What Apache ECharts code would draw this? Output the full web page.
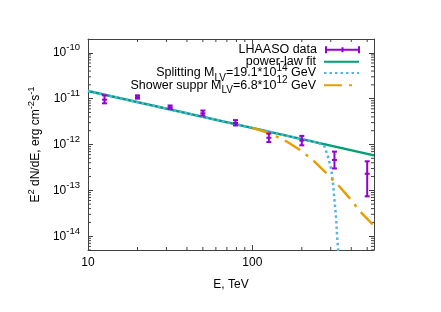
<!DOCTYPE html>
<html><head><meta charset="utf-8">
<script src="https://cdn.jsdelivr.net/npm/echarts@6/dist/echarts.min.js"></script>
<style>html,body{margin:0;padding:0;background:#fff}#c{width:441px;height:312px}</style>
</head><body><div id="c"></div>
<script>
// ---- data ----
const energies = [12.6, 20, 31.6, 50, 79, 126, 200, 316, 500];
const flux     = [9.5e-12, 1.08e-11, 6.5e-12, 4.8e-12, 2.95e-12, 1.4e-12, 1.22e-12, 4.6e-13, 2.3e-13];
const fluxLow  = [7.9e-12, 1.0e-11, 6.0e-12, 4.3e-12, 2.6e-12, 1.13e-12, 9.6e-13, 3.0e-13, 7.4e-14];
const fluxHigh = [1.18e-11, 1.18e-11, 7.1e-12, 5.5e-12, 3.4e-12, 1.73e-12, 1.54e-12, 7.0e-13, 4.3e-13];

const fitE    = [10, 550];
const fitFlux = [1.47e-11, 5.8e-13];

const splitE    = [10, 250, 265, 275, 288, 302, 309, 316, 324, 328, 333, 336];
const splitFlux = [1.47e-11, 1.1e-12, 1.0e-12, 9.0e-13, 5.6e-13, 2.9e-13, 1.5e-13, 6.4e-14, 2.3e-14, 1.0e-14, 5.0e-15, 2.5e-15];

const showerE    = [100, 124.5, 142, 160, 193, 233, 280, 302, 330, 393, 452, 540];
const showerFlux = [2.3e-12, 1.81e-12, 1.46e-12, 1.19e-12, 7.8e-13, 4.6e-13, 2.43e-13, 1.83e-13, 1.35e-13, 6.6e-14, 3.5e-14, 1.8e-14];

const seriesNames = ['LHAASO data', 'power-law fit', 'Splitting M_LV=19.1*10^14 GeV', 'Shower suppr M_LV=6.8*10^12 GeV'];
const legendLabels = [
  '{b|LHAASO data}',
  '{b|power-law fit}',
  '{b|Splitting M}{sub|LV}{b|=19.1*10}{sup|14}{b| GeV}',
  '{b|Shower suppr M}{sub|LV}{b|=6.8*10}{sup|12}{b| GeV}'
];
const xAxisTitle = 'E, TeV';
const yAxisTitle = '{b|E}{sup|2}{b| dN/dE, erg cm}{sup|-2}{b|s}{sup|-1}';

const xRange = [10, 550];
const yRange = [5e-15, 2e-10];
const xMinorTicks = [20, 30, 40, 50, 60, 70, 80, 90, 200, 300, 400, 500];
const yMinorMantissas = [2, 3, 4, 5, 6, 7, 8, 9];
const yDecades = [-15, -14, -13, -12, -11, -10];

// ---- styling ----
const FONT = 'Liberation Sans, Arial, sans-serif';
const C_DATA = '#9400d3', C_FIT = '#009e73', C_SPLIT = '#56b4e9', C_SHOWER = '#e69f00';
const AX = '#404040';
const rich = {
  b:   {fontFamily: FONT, fontSize: 12, color: '#000', lineHeight: 20},
  sup: {fontFamily: FONT, fontSize: 9.5, color: '#000', lineHeight: 9, verticalAlign: 'top'},
  sub: {fontFamily: FONT, fontSize: 9.5, color: '#000', lineHeight: 9, verticalAlign: 'bottom'}
};
const legendRich = {
  b:   {fontFamily: FONT, fontSize: 12.5, color: '#000', lineHeight: 20},
  sup: {fontFamily: FONT, fontSize: 10, color: '#000', lineHeight: 9, verticalAlign: 'top'},
  sub: {fontFamily: FONT, fontSize: 10, color: '#000', lineHeight: 9, verticalAlign: 'bottom'}
};

const yMinorTicks = [];
yDecades.forEach(d => yMinorMantissas.forEach(m => {
  const v = m * Math.pow(10, d);
  if (v > yRange[0] && v < yRange[1]) yMinorTicks.push(v);
}));

function renderErr(params, api) {
  const x = api.value(0);
  const c = api.coord([x, api.value(1)]);
  const lo = api.coord([x, api.value(2)]);
  const hi = api.coord([x, api.value(3)]);
  const w = 2.5;
  const style = {stroke: C_DATA, lineWidth: 2, fill: null};
  return {type: 'group', children: [
    {type: 'line', shape: {x1: c[0], y1: lo[1], x2: c[0], y2: hi[1]}, style},
    {type: 'line', shape: {x1: c[0] - w, y1: lo[1], x2: c[0] + w, y2: lo[1]}, style},
    {type: 'line', shape: {x1: c[0] - w, y1: hi[1], x2: c[0] + w, y2: hi[1]}, style},
    {type: 'line', shape: {x1: c[0] - w, y1: c[1], x2: c[0] + w, y2: c[1]}, style}
  ]};
}
function renderXMinor(params, api) {
  const cs = params.coordSys;
  const px = api.coord([api.value(0), yRange[0]])[0];
  const style = {stroke: AX, lineWidth: 1};
  return {type: 'group', children: [
    {type: 'line', shape: {x1: px, y1: cs.y + cs.height, x2: px, y2: cs.y + cs.height - 3}, style},
    {type: 'line', shape: {x1: px, y1: cs.y, x2: px, y2: cs.y + 3}, style}
  ]};
}
function renderYMinor(params, api) {
  const cs = params.coordSys;
  const py = api.coord([xRange[0], api.value(1)])[1];
  const style = {stroke: AX, lineWidth: 1};
  return {type: 'group', children: [
    {type: 'line', shape: {x1: cs.x, y1: py, x2: cs.x + 3, y2: py}, style},
    {type: 'line', shape: {x1: cs.x + cs.width, y1: py, x2: cs.x + cs.width - 3, y2: py}, style}
  ]};
}

const legendIcons = [
  'path://M0,4h35v2h-35z M0,1.5h2v7h-2z M33,1.5h2v7h-2z M16.5,2.5h2v5h-2z',
  null, null, null
];
const legendTops = [43.3, 55.3, 62.9, 75.2];
const legends = seriesNames.map((n, i) => ({
  orient: 'vertical', align: 'right', right: 81, top: legendTops[i], padding: 0,
  itemWidth: 35, itemHeight: 10,
  data: [legendIcons[i] ? {name: n, icon: legendIcons[i]} : {name: n, itemStyle: {opacity: 0}}],
  formatter: nm => legendLabels[seriesNames.indexOf(nm)],
  textStyle: {fontFamily: FONT, fontSize: 12.5, color: '#000', rich: legendRich, padding: [0, 3, 0, 0]}
}));

const chart = echarts.init(document.getElementById('c'), null, {renderer: 'canvas'});
const axisCommon = {
  axisLine: {show: true, lineStyle: {color: AX, width: 1}},
  axisTick: {show: true, inside: true, length: 5, lineStyle: {color: AX}},
  splitLine: {show: false}
};
chart.setOption({
  animation: false,
  backgroundColor: '#fff',
  grid: {left: 88, right: 67, top: 39, bottom: 62},
  legend: legends,
  xAxis: [
    Object.assign({
      type: 'log', logBase: 10, min: xRange[0], max: xRange[1], position: 'bottom',
      axisLabel: {fontFamily: FONT, fontSize: 12, color: '#000', margin: 7, showMaxLabel: false, showMinLabel: true,
        formatter: v => String(Math.round(v))},
      name: xAxisTitle, nameLocation: 'middle', nameGap: 29,
      nameTextStyle: {fontFamily: FONT, fontSize: 12, color: '#000'}
    }, axisCommon),
    Object.assign({
      type: 'log', logBase: 10, min: xRange[0], max: xRange[1], position: 'top',
      axisLabel: {show: false}
    }, axisCommon)
  ],
  yAxis: [
    Object.assign({
      type: 'log', logBase: 10, min: yRange[0], max: yRange[1], position: 'left',
      axisLabel: {margin: 8, showMinLabel: false, showMaxLabel: false, rich: rich,
        formatter: v => '{b|10}{sup|' + Math.round(Math.log10(v)) + '}'},
      name: yAxisTitle, nameLocation: 'middle', nameRotate: 90, nameGap: 34,
      nameTextStyle: {rich: rich}
    }, axisCommon),
    Object.assign({
      type: 'log', logBase: 10, min: yRange[0], max: yRange[1], position: 'right',
      axisLabel: {show: false}
    }, axisCommon)
  ],
  series: [
    {
      name: seriesNames[0], type: 'custom', renderItem: renderErr, z: 5,
      itemStyle: {color: C_DATA},
      encode: {x: 0, y: [1, 2, 3]},
      data: energies.map((e, i) => [e, flux[i], fluxLow[i], fluxHigh[i]])
    },
    {
      name: seriesNames[1], type: 'line', symbol: 'none', showSymbol: false, z: 2,
      lineStyle: {color: C_FIT, width: 2.5}, itemStyle: {color: C_FIT},
      data: fitE.map((e, i) => [e, fitFlux[i]])
    },
    {
      name: seriesNames[2], type: 'line', symbol: 'none', showSymbol: false, z: 3,
      lineStyle: {color: C_SPLIT, width: 2.5, type: [2.5, 3]}, itemStyle: {color: C_SPLIT},
      data: splitE.map((e, i) => [e, splitFlux[i]])
    },
    {
      name: seriesNames[3], type: 'line', symbol: 'none', showSymbol: false, z: 3,
      lineStyle: {color: C_SHOWER, width: 2.5, type: [18, 7, 3, 7]}, itemStyle: {color: C_SHOWER},
      data: showerE.map((e, i) => [e, showerFlux[i]])
    },
    {
      type: 'custom', renderItem: renderXMinor, silent: true, z: 1,
      encode: {x: 0, y: 1},
      data: xMinorTicks.map(v => [v, 1e-12])
    },
    {
      type: 'custom', renderItem: renderYMinor, silent: true, z: 1,
      encode: {x: 0, y: 1},
      data: yMinorTicks.map(v => [20, v])
    }
  ]
});
</script></body></html>
